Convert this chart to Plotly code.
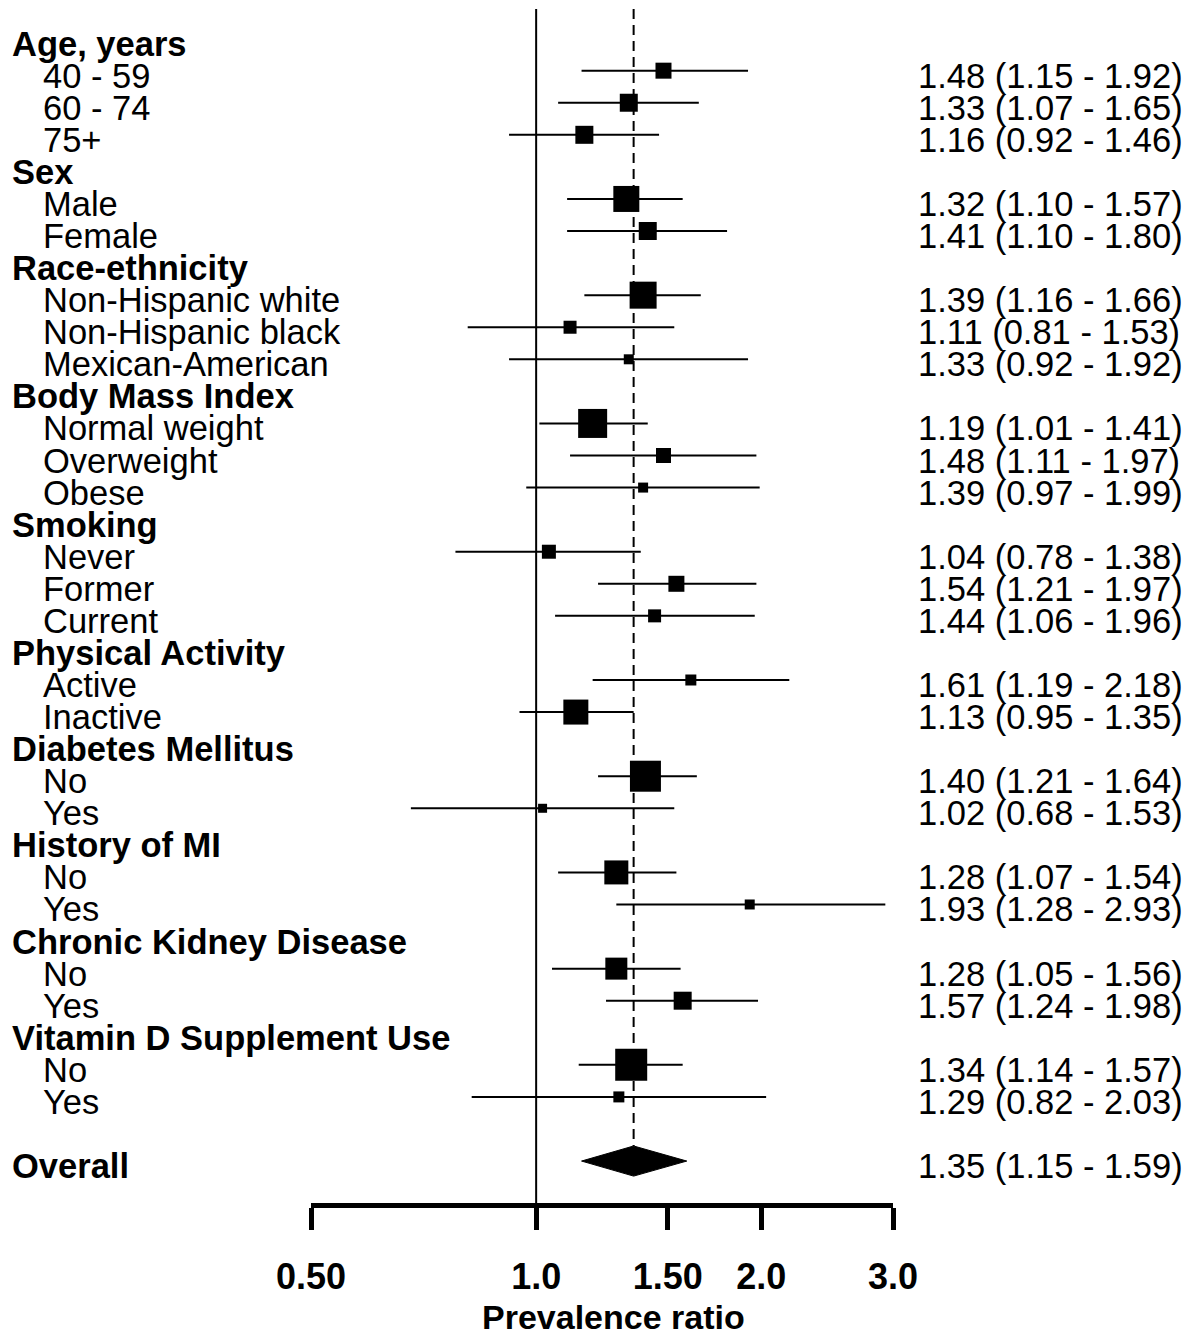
import plotly.graph_objects as go

# ---------------- data ----------------
labels = [
    "Age, years", "40 - 59", "60 - 74", "75+",
    "Sex", "Male", "Female",
    "Race-ethnicity", "Non-Hispanic white", "Non-Hispanic black", "Mexican-American",
    "Body Mass Index", "Normal weight", "Overweight", "Obese",
    "Smoking", "Never", "Former", "Current",
    "Physical Activity", "Active", "Inactive",
    "Diabetes Mellitus", "No", "Yes",
    "History of MI", "No", "Yes",
    "Chronic Kidney Disease", "No", "Yes",
    "Vitamin D Supplement Use", "No", "Yes",
]
is_header = [
    True, False, False, False,
    True, False, False,
    True, False, False, False,
    True, False, False, False,
    True, False, False, False,
    True, False, False,
    True, False, False,
    True, False, False,
    True, False, False,
    True, False, False,
]
pr = [None, 1.48, 1.33, 1.16, None, 1.32, 1.41, None, 1.39, 1.11, 1.33,
      None, 1.19, 1.48, 1.39, None, 1.04, 1.54, 1.44, None, 1.61, 1.13,
      None, 1.40, 1.02, None, 1.28, 1.93, None, 1.28, 1.57, None, 1.34, 1.29]
lower = [None, 1.15, 1.07, 0.92, None, 1.10, 1.10, None, 1.16, 0.81, 0.92,
         None, 1.01, 1.11, 0.97, None, 0.78, 1.21, 1.06, None, 1.19, 0.95,
         None, 1.21, 0.68, None, 1.07, 1.28, None, 1.05, 1.24, None, 1.14, 0.82]
upper = [None, 1.92, 1.65, 1.46, None, 1.57, 1.80, None, 1.66, 1.53, 1.92,
         None, 1.41, 1.97, 1.99, None, 1.38, 1.97, 1.96, None, 2.18, 1.35,
         None, 1.64, 1.53, None, 1.54, 2.93, None, 1.56, 1.98, None, 1.57, 2.03]
# relative weight (square side, px)
weight = [None, 16, 18, 18, None, 26, 18, None, 27, 13, 10,
          None, 29, 15, 10, None, 14, 16, 13, None, 11, 25,
          None, 31, 9, None, 24, 10, None, 22, 18, None, 32, 11]

overall_label = "Overall"
overall_pr, overall_lo, overall_hi = 1.35, 1.15, 1.59

null_value = 1.0
tick_vals = [0.5, 1.0, 1.5, 2.0, 3.0]
tick_text = ["0.50", "1.0", "1.50", "2.0", "3.0"]
x_title = "Prevalence ratio"

# ---------------- layout constants ----------------
OFF = 8                       # page body margin
W, H = 1196 - OFF, 1338 - OFF
FONT = "Liberation Sans, Arial, sans-serif"
FS = 34.5
n = len(labels)
overall_row = n + 1
ROW0, ROWH = 38.6, 32.07      # page pixel of row 0 and row pitch
PLOT_TOP, PLOT_BOT = 9, 1203  # page pixels
y_top = (PLOT_TOP - ROW0) / ROWH
y_bot = (PLOT_BOT - ROW0) / ROWH
TEXT_SHIFT = -5               # text sits a little below its row


def px(p):
    """target page pixel (x) -> paper fraction"""
    return (p - OFF) / W


fig = go.Figure()

# reference lines
fig.add_trace(go.Scatter(x=[null_value, null_value], y=[y_top, y_bot], mode="lines",
                         line=dict(color="black", width=2), hoverinfo="skip", showlegend=False))
fig.add_trace(go.Scatter(x=[overall_pr, overall_pr], y=[y_top, overall_row - 0.47], mode="lines",
                         line=dict(color="black", width=2, dash="10px,6px"),
                         hoverinfo="skip", showlegend=False))

# CI lines
cx, cy = [], []
for i in range(n):
    if pr[i] is not None:
        cx += [lower[i], upper[i], None]
        cy += [i, i, None]
fig.add_trace(go.Scatter(x=cx, y=cy, mode="lines", line=dict(color="black", width=2),
                         hoverinfo="skip", showlegend=False))

# squares
idx = [i for i in range(n) if pr[i] is not None]
fig.add_trace(go.Scatter(x=[pr[i] for i in idx], y=idx, mode="markers",
                         marker=dict(symbol="square", size=[weight[i] for i in idx],
                                     color="black", opacity=1, line=dict(width=0)),
                         hoverinfo="skip", showlegend=False))

# overall diamond
h = 0.47
fig.add_trace(go.Scatter(x=[overall_lo, overall_pr, overall_hi, overall_pr, overall_lo],
                         y=[overall_row, overall_row - h, overall_row, overall_row + h, overall_row],
                         mode="lines", fill="toself", fillcolor="black",
                         line=dict(color="black", width=1), hoverinfo="skip", showlegend=False))

# text annotations
ann = []
for i in range(n):
    ann.append(dict(x=px((12 if is_header[i] else 43) - 2), xref="paper", y=i, yref="y",
                    yshift=TEXT_SHIFT,
                    text=labels[i], showarrow=False, xanchor="left", yanchor="middle",
                    font=dict(family=FONT, size=FS, color="black",
                              weight="bold" if is_header[i] else "normal")))
    if pr[i] is not None:
        ann.append(dict(x=px(918 - 2), xref="paper", y=i, yref="y", yshift=TEXT_SHIFT,
                        text=f"{pr[i]:.2f} ({lower[i]:.2f} - {upper[i]:.2f})",
                        showarrow=False, xanchor="left", yanchor="middle",
                        font=dict(family=FONT, size=FS, color="black")))
ann.append(dict(x=px(12 - 2), xref="paper", y=overall_row, yref="y", yshift=TEXT_SHIFT,
                text=overall_label, showarrow=False, xanchor="left", yanchor="middle",
                font=dict(family=FONT, size=FS, color="black", weight="bold")))
ann.append(dict(x=px(918 - 2), xref="paper", y=overall_row, yref="y", yshift=TEXT_SHIFT,
                text=f"{overall_pr:.2f} ({overall_lo:.2f} - {overall_hi:.2f})",
                showarrow=False, xanchor="left", yanchor="middle",
                font=dict(family=FONT, size=FS, color="black")))
# axis title
ann.append(dict(x=px(613), xref="paper", y=0, yref="paper", yshift=-114,
                text=x_title, showarrow=False, xanchor="center", yanchor="middle",
                font=dict(family=FONT, size=34, color="black", weight="bold")))

fig.update_layout(
    template="none",
    width=W, height=H,
    margin=dict(l=0, r=0, t=PLOT_TOP - OFF, b=H - (PLOT_BOT - OFF), autoexpand=False),
    plot_bgcolor="white", paper_bgcolor="white",
    annotations=ann,
    xaxis=dict(type="log", range=[-0.30103, 0.47712], domain=[px(311), px(893)],
               automargin=False,
               showgrid=False, zeroline=False, showline=True, linecolor="black", linewidth=5,
               ticks="outside", ticklen=22, tickwidth=5, tickcolor="black",
               tickvals=tick_vals, ticktext=tick_text, ticklabelstandoff=16,
               tickfont=dict(family=FONT, size=36, color="black", weight="bold")),
    yaxis=dict(range=[y_bot, y_top], visible=False, showgrid=False, zeroline=False,
               automargin=False),
)

fig.write_html("out.html")
